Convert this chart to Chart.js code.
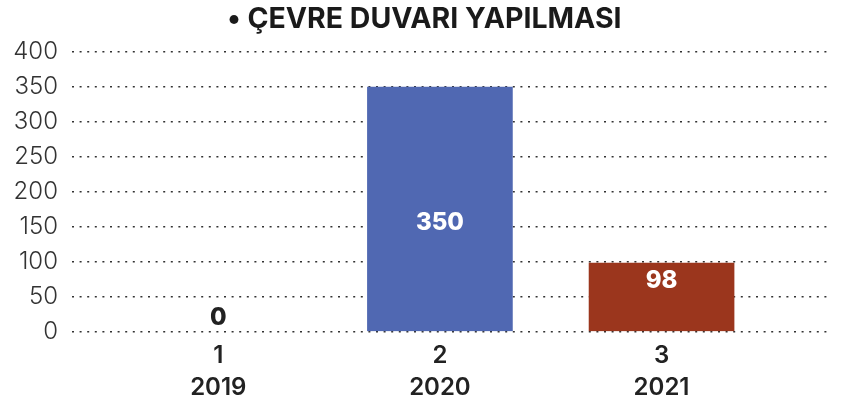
<!DOCTYPE html>
<html>
<head>
<meta charset="utf-8">
<script src="https://cdn.jsdelivr.net/npm/chart.js@4"></script>
<style>
  body { margin: 0; background: #fff; }
  #wrap { width: 844px; height: 409px; }
</style>
</head>
<body>
<div id="wrap"><canvas id="myChart"></canvas></div>
<script>
// data
const positions = [1, 2, 3];
const numbers = ['1', '2', '3'];
const years = ['2019', '2020', '2021'];
const values = [0, 350, 98];
const barColors = ['#5068b2', '#5068b2', '#9b361d'];
const yTicks = [0, 50, 100, 150, 200, 250, 300, 350, 400];

// value labels on the bars
const valueLabels = {
  id: 'valueLabels',
  afterDatasetsDraw(chart) {
    const ctx = chart.ctx;
    const meta = chart.getDatasetMeta(0);
    ctx.save();
    ctx.font = '800 24px Inter';
    ctx.textAlign = 'center';
    ctx.textBaseline = 'middle';
    meta.data.forEach((bar, i) => {
      const v = values[i];
      let y;
      if (v === 0) {
        ctx.fillStyle = '#222';
        y = bar.base - 14;
      } else {
        ctx.fillStyle = '#fff';
        const h = bar.base - bar.y;
        y = h > 150 ? (bar.y + bar.base) / 2 + 14 : bar.y + 18;
      }
      ctx.fillText(String(v), bar.x, y);
    });
    ctx.restore();
  }
};

const ctx = document.getElementById('myChart').getContext('2d');
new Chart(ctx, {
  type: 'bar',
  data: {
    datasets: [{
      data: positions.map((p, i) => ({ x: p, y: values[i] })),
      backgroundColor: c => values[c.dataIndex] === 0 ? 'rgba(0,0,0,0)' : barColors[c.dataIndex],
      barThickness: 145
    }]
  },
  options: {
    responsive: true,
    maintainAspectRatio: false,
    animation: false,
    layout: { padding: { left: 0, right: 14, top: 0, bottom: -3 } },
    plugins: {
      legend: { display: false },
      tooltip: { enabled: false },
      title: {
        display: true,
        // leading spaces nudge the centred title to the right like the original
        text: '\u2002\u2009• ÇEVRE DUVARI YAPILMASI',
        color: '#1a1a1a',
        font: { family: 'Inter', size: 28.5, weight: '700' },
        padding: { top: 2, bottom: 16 }
      }
    },
    scales: {
      x: {
        type: 'linear',
        offset: false,
        min: 0.34,
        max: 3.76,
        grid: { display: false, drawTicks: false },
        border: { display: false },
        afterBuildTicks: scale => {
          scale.ticks = positions.map(v => ({ value: v }));
        },
        ticks: {
          padding: 9,
          color: '#222',
          maxRotation: 0,
          font: { family: 'Inter', size: 24, weight: '600', lineHeight: 1.3 },
          callback: (v) => {
            const i = positions.indexOf(v);
            return i < 0 ? '' : [numbers[i], years[i]];
          }
        }
      },
      y: {
        min: 0,
        max: 400,
        afterFit: scale => { scale.width = 72; },
        afterBuildTicks: scale => {
          scale.ticks = yTicks.map(v => ({ value: v }));
        },
        grid: { color: '#333', lineWidth: 1.6, drawTicks: false },
        border: { display: false, dash: [2, 5.6] },
        ticks: {
          padding: 14,
          color: '#333',
          font: { family: 'Inter', size: 24, weight: '300' }
        }
      }
    }
  },
  plugins: [valueLabels]
});
</script>
</body>
</html>
